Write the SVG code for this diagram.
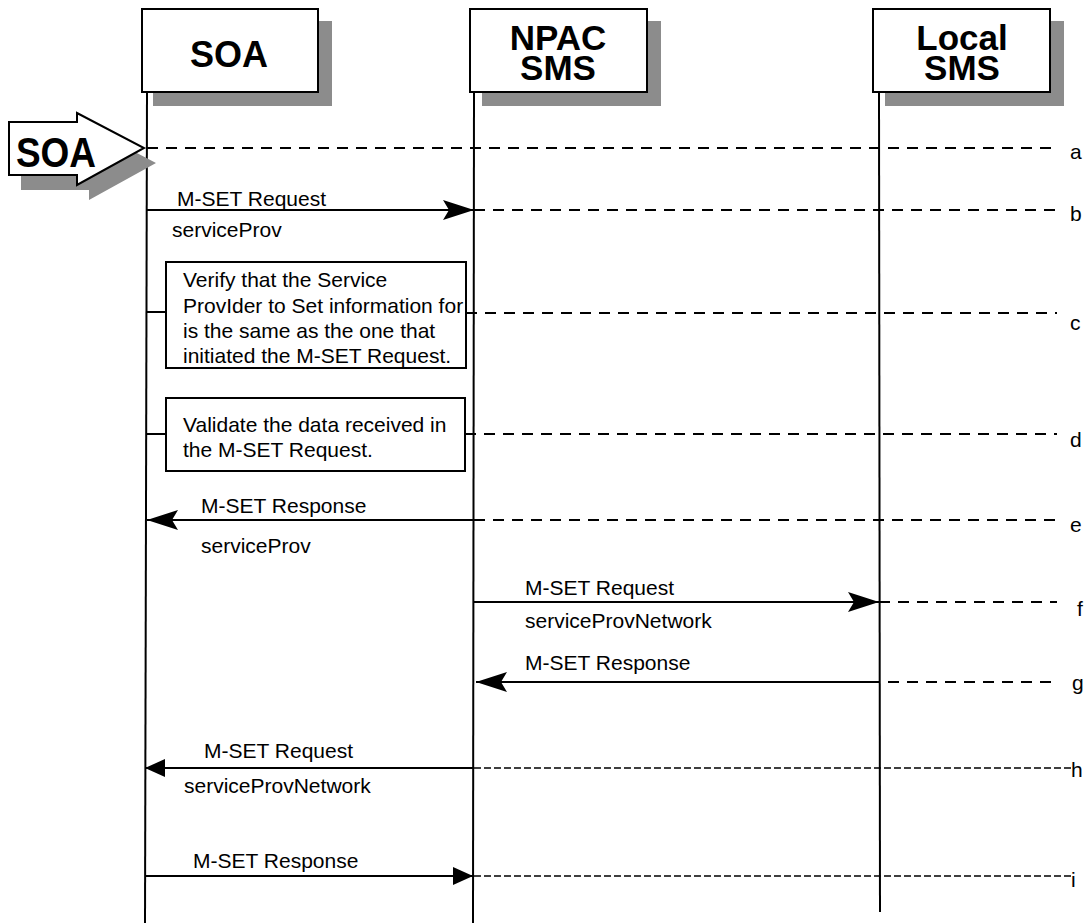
<svg xmlns="http://www.w3.org/2000/svg" width="1088" height="923" viewBox="0 0 1088 923">
<style>
  .bg{fill:#ffffff}
  .box{fill:#ffffff;stroke:#000;stroke-width:2}
  .shadow{fill:#8c8c8c;stroke:none}
  .life{stroke:#000;stroke-width:2;fill:none}
  .msg{stroke:#000;stroke-width:2;fill:none}
  .dash{stroke:#000;stroke-width:2;fill:none;stroke-dasharray:11 8}
  .fine{stroke:#000;stroke-width:1.6;fill:none;stroke-dasharray:7 3}
  .hdr{font-family:"Liberation Sans",Arial,sans-serif;font-weight:bold;font-size:35px;fill:#000;text-anchor:middle}
  .lbl{font-family:"Liberation Sans",Arial,sans-serif;font-size:21px;fill:#000}
</style>
<defs>
  <marker id="ah" viewBox="-32 -11 33 22" refX="0" refY="0" markerWidth="33" markerHeight="22" markerUnits="userSpaceOnUse" orient="auto">
    <path d="M0,0 L-31,-10 L-25,0 L-31,10 Z" fill="#000"/>
  </marker>
  <marker id="as" viewBox="-21 -10 22 20" refX="0" refY="0" markerWidth="22" markerHeight="20" markerUnits="userSpaceOnUse" orient="auto">
    <path d="M0,0 L-20,-9 L-20,9 Z" fill="#000"/>
  </marker>
</defs>
<rect class="bg" x="0" y="0" width="1088" height="923"/>

<g id="node-soa">
  <line class="life" x1="147" y1="92" x2="145" y2="923"/>
  <rect class="shadow" x="153" y="21" width="179" height="85"/>
  <rect class="box" x="142" y="9" width="176" height="83"/>
  <text class="hdr" x="229" y="67" style="font-size:36px">SOA</text>
</g>
<g id="node-npac">
  <line class="life" x1="474" y1="92" x2="473" y2="923"/>
  <rect class="shadow" x="482" y="21" width="179" height="85"/>
  <rect class="box" x="470" y="9" width="177" height="83"/>
  <text class="hdr"><tspan x="558" y="50">NPAC</tspan><tspan x="558" y="80">SMS</tspan></text>
</g>
<g id="node-local">
  <line class="life" x1="879" y1="92" x2="880" y2="912"/>
  <rect class="shadow" x="885" y="21" width="179" height="85"/>
  <rect class="box" x="873" y="9" width="177" height="83"/>
  <text class="hdr"><tspan x="962" y="50">Local</tspan><tspan x="962" y="80">SMS</tspan></text>
</g>

<g id="connectors">
  <line class="dash" x1="147" y1="148" x2="1057" y2="148"/>
  <line class="dash" x1="474" y1="210" x2="1057" y2="210"/>
  <line class="dash" x1="466" y1="313" x2="1057" y2="313"/>
  <line class="dash" x1="465" y1="434" x2="1057" y2="434"/>
  <line class="dash" x1="474" y1="520" x2="1057" y2="520"/>
  <line class="dash" x1="879" y1="602" x2="1057" y2="602"/>
  <line class="dash" x1="850" y1="682" x2="1057" y2="682"/>
  <line class="fine" x1="474" y1="768" x2="1071" y2="768"/>
  <line class="fine" x1="474" y1="876" x2="1071" y2="876"/>

  <line class="msg" x1="147" y1="210" x2="474" y2="210" marker-end="url(#ah)"/>
  <line class="msg" x1="147" y1="312" x2="166" y2="312"/>
  <line class="msg" x1="147" y1="434" x2="166" y2="434"/>
  <line class="msg" x1="474" y1="520" x2="147" y2="520" marker-end="url(#ah)"/>
  <line class="msg" x1="474" y1="602" x2="879" y2="602" marker-end="url(#ah)"/>
  <line class="msg" x1="879" y1="682" x2="476" y2="682" marker-end="url(#ah)"/>
  <line class="msg" x1="473" y1="768" x2="145" y2="768" marker-end="url(#as)"/>
  <line class="msg" x1="145" y1="876" x2="473" y2="876" marker-end="url(#as)"/>

  <text class="lbl" x="177" y="206">M-SET Request</text>
  <text class="lbl" x="172" y="237">serviceProv</text>
  <text class="lbl" x="201" y="513">M-SET Response</text>
  <text class="lbl" x="201" y="553">serviceProv</text>
  <text class="lbl" x="525" y="595">M-SET Request</text>
  <text class="lbl" x="525" y="628">serviceProvNetwork</text>
  <text class="lbl" x="525" y="670">M-SET Response</text>
  <text class="lbl" x="204" y="758">M-SET Request</text>
  <text class="lbl" x="184" y="793">serviceProvNetwork</text>
  <text class="lbl" x="193" y="868">M-SET Response</text>

  <text class="lbl" x="1070" y="159">a</text>
  <text class="lbl" x="1070" y="221">b</text>
  <text class="lbl" x="1070" y="330">c</text>
  <text class="lbl" x="1070" y="447">d</text>
  <text class="lbl" x="1070" y="532">e</text>
  <text class="lbl" x="1077" y="616">f</text>
  <text class="lbl" x="1072" y="690">g</text>
  <text class="lbl" x="1071" y="777">h</text>
  <text class="lbl" x="1071" y="887">i</text>
</g>

<g id="node-soa-trigger">
  <polygon class="shadow" points="21,137 89,137 89,128 156,163 89,200 89,190 21,190"/>
  <polygon class="box" points="9,122 77,122 77,113 144,148 77,185 77,175 9,175"/>
  <text class="hdr" transform="translate(56,167) scale(1,1.17)" x="0" y="0" style="font-size:37px">SOA</text>
</g>

<g id="node-verify">
  <rect class="box" x="166" y="262" width="300" height="106"/>
  <text class="lbl"><tspan x="183" y="287">Verify that the Service</tspan><tspan x="183" y="313">ProvIder to Set information for</tspan><tspan x="183" y="338">is the same as the one that</tspan><tspan x="183" y="363">initiated the M-SET Request.</tspan></text>
</g>
<g id="node-validate">
  <rect class="box" x="166" y="398" width="299" height="73"/>
  <text class="lbl"><tspan x="183" y="432">Validate the data received in</tspan><tspan x="183" y="457">the M-SET Request.</tspan></text>
</g>
</svg>
